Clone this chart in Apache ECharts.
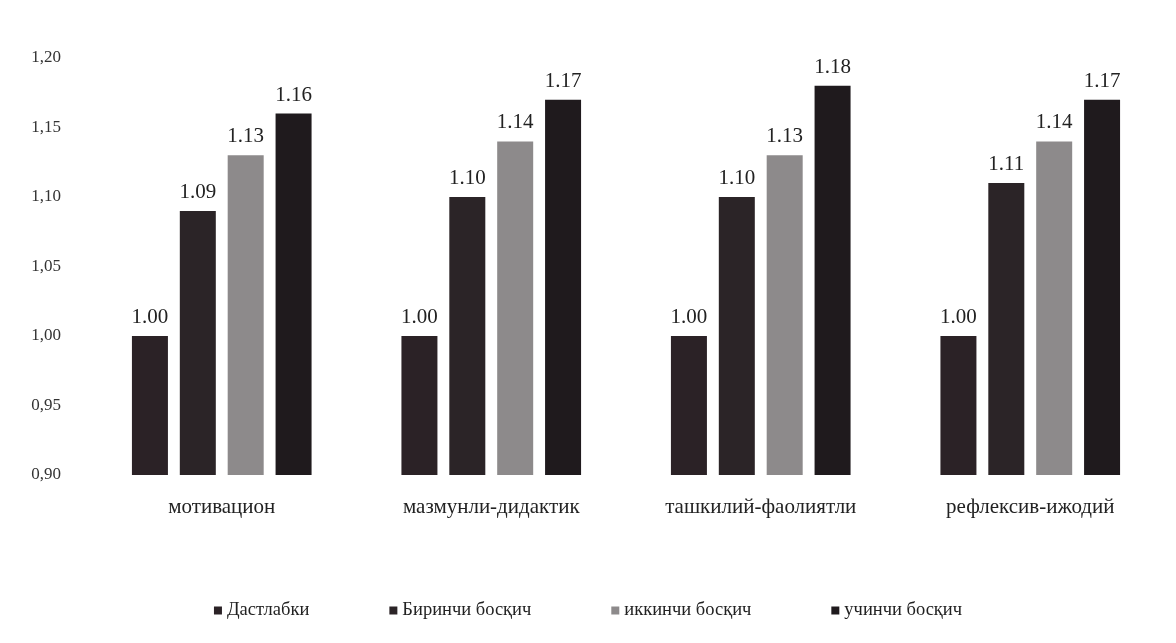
<!DOCTYPE html>
<html>
<head>
<meta charset="utf-8">
<script src="https://cdn.jsdelivr.net/npm/echarts@6/dist/echarts.min.js"></script>
<style>html,body{margin:0;padding:0;background:#fff;}#c{width:1176px;height:643px;}</style>
</head>
<body>
<div id="c"></div>
<script>
const categories = ['мотивацион', 'мазмунли-дидактик', 'ташкилий-фаолиятли', 'рефлексив-ижодий'];
const seriesNames = ['Дастлабки', 'Биринчи босқич', 'иккинчи босқич', 'учинчи босқич'];
const dastlabki = [1.00, 1.00, 1.00, 1.00];
const birinchi = [1.09, 1.10, 1.10, 1.11];
const ikkinchi = [1.13, 1.14, 1.13, 1.14];
const uchinchi = [1.16, 1.17, 1.18, 1.17];
const yTicks = ['0,90', '0,95', '1,00', '1,05', '1,10', '1,15', '1,20'];

const colors = ['#2b2226', '#2b2427', '#8d8a8b', '#1f1a1d'];
const font = '"Liberation Serif", "DejaVu Serif", serif';
const values = [dastlabki, birinchi, ikkinchi, uchinchi];

const chart = echarts.init(document.getElementById('c'));
chart.setOption({
  backgroundColor: '#ffffff',
  animation: false,
  grid: { left: 87, right: 11, top: 58, bottom: 168, containLabel: false },
  legend: {
    bottom: 18,
    left: 'center',
    itemWidth: 8,
    itemHeight: 8,
    itemGap: 80,
    icon: 'rect',
    textStyle: { fontFamily: font, fontSize: 18.5, color: '#222' },
    data: seriesNames
  },
  xAxis: {
    type: 'category',
    data: categories,
    axisLine: { show: false },
    axisTick: { show: false },
    axisLabel: { fontFamily: font, fontSize: 21, color: '#222', margin: 22 }
  },
  yAxis: {
    type: 'value',
    min: 0.9,
    max: 1.2,
    interval: 0.05,
    axisLine: { show: false },
    axisTick: { show: false },
    splitLine: { show: false },
    axisLabel: {
      fontFamily: font, fontSize: 17, color: '#333', margin: 26,
      formatter: function (v) {
        const i = Math.round((v - 0.9) / 0.05);
        return yTicks[i] !== undefined ? yTicks[i] : '';
      }
    }
  },
  series: seriesNames.map(function (name, i) {
    return {
      name: name,
      type: 'bar',
      data: values[i],
      barWidth: 36,
      barGap: '33%',
      itemStyle: { color: colors[i] },
      label: {
        show: true,
        position: 'top',
        distance: 8,
        fontFamily: font,
        fontSize: 21,
        color: '#222',
        formatter: function (p) { return p.value.toFixed(2); }
      }
    };
  })
});
</script>
</body>
</html>
